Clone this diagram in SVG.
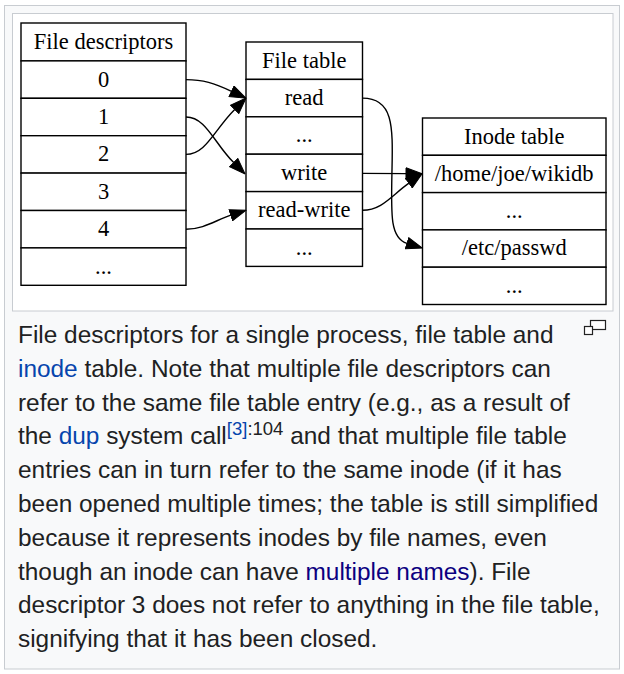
<svg xmlns="http://www.w3.org/2000/svg" width="624" height="674" viewBox="0 0 624 674">
<defs>
<style>
.frame{fill:#f8f9fa;stroke:#c8ccd1;stroke-width:1}
.inner{fill:#ffffff;stroke:#c8ccd1;stroke-width:1}
.cell{fill:#ffffff;stroke:#000000;stroke-width:1.4}
.lbl{font-family:"Liberation Serif","Times New Roman",serif;font-size:22.5px;fill:#000000;text-anchor:middle}
.edge{fill:none;stroke:#000000;stroke-width:1.4}
.cap{font-family:"Liberation Sans",Arial,Helvetica,sans-serif;font-size:24.4px;fill:#202122}
.lnk{fill:#0645ad}
.vis{fill:#0b0080}
.sup{font-size:18.5px}
.icon{fill:#ffffff;stroke:#222222;stroke-width:1.2}
</style>
<marker id="arr" markerUnits="userSpaceOnUse" markerWidth="17" markerHeight="13" refX="0.5" refY="6.5" orient="auto">
<path d="M0.5,0.7 L16.5,6.5 L0.5,12.3 Z" fill="#000000" stroke="#000000" stroke-width="1"/>
</marker>
</defs>
<rect x="0" y="0" width="624" height="674" fill="#ffffff"/>
<rect class="frame" x="4.5" y="5.5" width="615" height="663.5"/>
<rect class="inner" x="12.5" y="13.5" width="600.5" height="297.5"/>

<g id="fd_table">
<rect class="cell" x="21" y="23" width="165" height="37.9"/>
<rect class="cell" x="21" y="60.9" width="165" height="37.4"/>
<rect class="cell" x="21" y="98.3" width="165" height="37.4"/>
<rect class="cell" x="21" y="135.7" width="165" height="37.4"/>
<rect class="cell" x="21" y="173.1" width="165" height="37.4"/>
<rect class="cell" x="21" y="210.5" width="165" height="37.4"/>
<rect class="cell" x="21" y="247.9" width="165" height="37.4"/>
<text class="lbl" x="103.5" y="48.5">File descriptors</text>
<text class="lbl" x="103.5" y="86.6">0</text>
<text class="lbl" x="103.5" y="124">1</text>
<text class="lbl" x="103.5" y="161.4">2</text>
<text class="lbl" x="103.5" y="198.8">3</text>
<text class="lbl" x="103.5" y="236.2">4</text>
<text class="lbl" x="103.5" y="273.6">...</text>
</g>

<g id="file_table">
<rect class="cell" x="246" y="42" width="116.5" height="37.4"/>
<rect class="cell" x="246" y="79.4" width="116.5" height="37.4"/>
<rect class="cell" x="246" y="116.8" width="116.5" height="37.4"/>
<rect class="cell" x="246" y="154.2" width="116.5" height="37.4"/>
<rect class="cell" x="246" y="191.6" width="116.5" height="37.4"/>
<rect class="cell" x="246" y="229" width="116.5" height="37.4"/>
<text class="lbl" x="304.2" y="67.5">File table</text>
<text class="lbl" x="304.2" y="105">read</text>
<text class="lbl" x="304.2" y="142.4">...</text>
<text class="lbl" x="304.2" y="179.8">write</text>
<text class="lbl" x="304.2" y="217.2">read-write</text>
<text class="lbl" x="304.2" y="254.6">...</text>
</g>

<g id="inode_table">
<rect class="cell" x="422.5" y="118" width="183.5" height="37.3"/>
<rect class="cell" x="422.5" y="155.3" width="183.5" height="37.3"/>
<rect class="cell" x="422.5" y="192.6" width="183.5" height="37.3"/>
<rect class="cell" x="422.5" y="229.9" width="183.5" height="37.3"/>
<rect class="cell" x="422.5" y="267.2" width="183.5" height="37.3"/>
<text class="lbl" x="514.2" y="143.5">Inode table</text>
<text class="lbl" x="514.2" y="180.8">/home/joe/wikidb</text>
<text class="lbl" x="514.2" y="218.1">...</text>
<text class="lbl" x="514.2" y="255.4">/etc/passwd</text>
<text class="lbl" x="514.2" y="292.7">...</text>
</g>

<g id="connectors">
<path class="edge" marker-end="url(#arr)" d="M186,79.6 C203,79.6 214,83 231.5,91.3"/>
<path class="edge" marker-end="url(#arr)" d="M186,154.4 C206,154.4 214,130 234.7,109.4"/>
<path class="edge" marker-end="url(#arr)" d="M186,117 C206,117 214,143 233.7,162.6"/>
<path class="edge" marker-end="url(#arr)" d="M186,229.2 C204,229.2 216,220 230.8,215.2"/>
<path class="edge" marker-end="url(#arr)" d="M362.5,173.4 L406,173.6"/>
<path class="edge" marker-end="url(#arr)" d="M362.5,210.3 C382,210.3 392,195 408.9,183.1"/>
<path class="edge" marker-end="url(#arr)" d="M362.5,98.1 C393,98.1 393,125 392,170 C391,215 390,238 407,243.3"/>
</g>

<g id="expand_icon">
<rect class="icon" x="590.5" y="320.5" width="15" height="9"/>
<rect class="icon" x="584.5" y="326.5" width="8" height="8"/>
</g>

<g id="caption">
<text class="cap" x="18" y="343">File descriptors for a single process, file table and</text>
<text class="cap" x="18" y="376.8"><tspan class="lnk">inode</tspan> table. Note that multiple file descriptors can</text>
<text class="cap" x="18" y="410.6">refer to the same file table entry (e.g., as a result of</text>
<text class="cap" x="18" y="444.4">the <tspan class="lnk">dup</tspan> system call<tspan class="sup lnk" dy="-9">[3]</tspan><tspan class="sup">:104</tspan><tspan dy="9"> and that multiple file table</tspan></text>
<text class="cap" x="18" y="478.2">entries can in turn refer to the same inode (if it has</text>
<text class="cap" x="18" y="512">been opened multiple times; the table is still simplified</text>
<text class="cap" x="18" y="545.8">because it represents inodes by file names, even</text>
<text class="cap" x="18" y="579.6">though an inode can have <tspan class="vis">multiple names</tspan>). File</text>
<text class="cap" x="18" y="613.4">descriptor 3 does not refer to anything in the file table,</text>
<text class="cap" x="18" y="647.2">signifying that it has been closed.</text>
</g>
</svg>
